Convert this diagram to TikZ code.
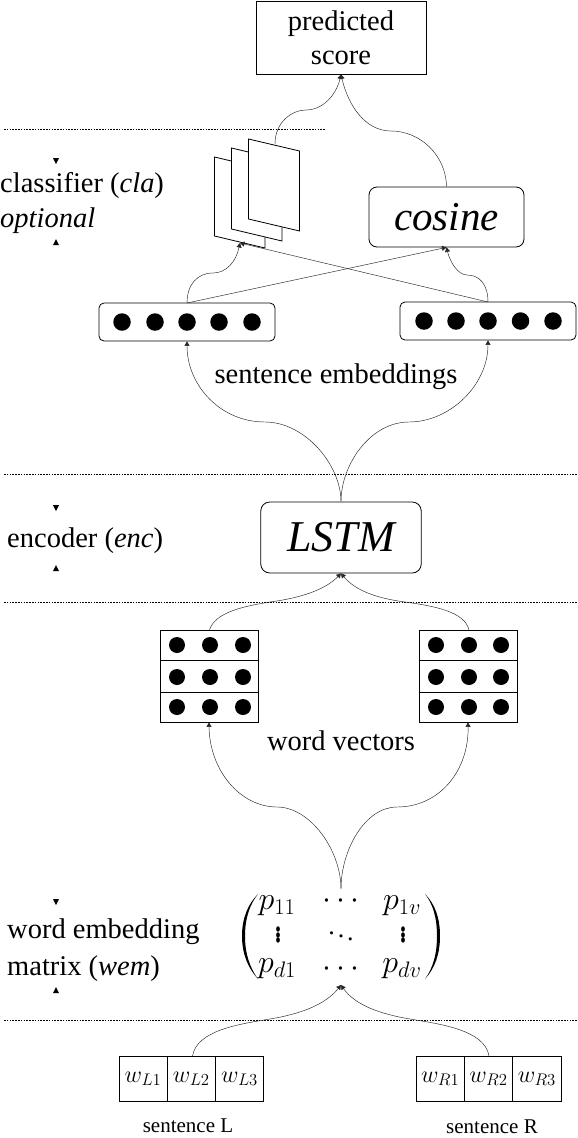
\RequirePackage{fix-cm}
\documentclass[tikz,border=0pt]{standalone}
\usepackage{fontspec}
\setmainfont{Liberation Serif}
\usetikzlibrary{arrows.meta,positioning}
\tikzset{
  conn/.style={draw=black!85,line width=0.45pt,-{Triangle[length=4.5pt,width=5pt]}},
  sep/.style={draw=black,line width=0.5pt,dash pattern=on 1.6pt off 1.2pt},
  lab/.style={inner sep=0pt,anchor=base,font=\fontsize{28.5}{32}\selectfont},
  side/.style={inner sep=0pt,anchor=base west,font=\fontsize{28.5}{32}\selectfont},
  box/.style={draw=black,line width=0.8pt,fill=white},
  dot/.style={circle,fill=black,minimum size=17.5pt,inner sep=0pt},
  gdot/.style={circle,fill=black,minimum size=16pt,inner sep=0pt},
  page/.style={draw=black,line width=0.8pt,fill=white},
  tri/.style={fill=black,draw=none},
  cell/.style={draw=black,line width=0.8pt,minimum height=45pt,inner sep=0pt,anchor=north west,font=\fontsize{24}{28}\selectfont},
  gridrow/.style={draw=black,line width=0.8pt,minimum width=98pt,inner sep=0pt},
  caption/.style={inner sep=0pt,anchor=base,font=\fontsize{21}{25}\selectfont},
  mtx/.style={inner sep=0pt,font=\fontsize{32}{36}\selectfont},
}
\begin{document}
\begin{tikzpicture}[x=1pt,y=-1pt]
\useasboundingbox (0,0) rectangle (578,1138);
\fill[white] (0,0) rectangle (578,1138);
% separators
\coordinate (s1a) at (4,129); \coordinate (s1b) at (325,129);
\coordinate (s2a) at (4,474); \coordinate (s2b) at (578,474);
\coordinate (s3a) at (4,602); \coordinate (s3b) at (578,602);
\coordinate (s4a) at (4,1020); \coordinate (s4b) at (578,1020);
\draw[sep] (s1a)--(s1b); \draw[sep] (s2a)--(s2b); \draw[sep] (s3a)--(s3b); \draw[sep] (s4a)--(s4b);
% score
\node[box,minimum width=170pt,minimum height=73pt,inner sep=0pt,align=center,font=\fontsize{28.5}{34}\selectfont] (score) at (341,37.5) {\raisebox{-1.5pt}{predicted}\\\raisebox{-1.5pt}{score}};
% pages
\draw[page] (214.5,157) -- (265,169) -- (265,248) -- (214.5,236) -- cycle;
\draw[page] (231.5,148) -- (282,160) -- (282,241) -- (231.5,229) -- cycle;
\draw[page] (248.5,139) -- (299.5,151) -- (299.5,231) -- (248.5,219) -- cycle;
\coordinate (pagetop) at (275,144);
\coordinate (pagebot) at (240,243);
% cosine
\node[box,rounded corners=8pt,minimum width=155pt,minimum height=60pt,inner sep=0pt,font=\fontsize{41}{48}\selectfont\itshape] (cos) at (446.5,217) {cosine};
% sentence boxes
\node[box,rounded corners=5pt,minimum width=176pt,minimum height=38pt,inner sep=0pt] (sl) at (187,322) {};
\node[box,rounded corners=5pt,minimum width=176pt,minimum height=38pt,inner sep=0pt] (sr) at (488,321) {};
\foreach \n/\x in {a/122,b/155,c/187,d/219,e/252} \node[dot] (sl\n) at (\x,322) {};
\foreach \n/\x in {a/424,b/456,c/488,d/520.5,e/553} \node[dot] (sr\n) at (\x,321) {};
\node[lab] (selab) at (336,383) {sentence embeddings};
% LSTM
\node[box,rounded corners=9pt,minimum width=160.5pt,minimum height=71pt,inner sep=0pt,font=\fontsize{44}{50}\selectfont\itshape] (lstm) at (341,537.5) {LSTM};
% word vector grids
\node[gridrow,minimum height=30pt] (gla) at (209,645) {};
\node[gridrow,minimum height=32pt] (glb) at (209,676) {};
\node[gridrow,minimum height=30pt] (glc) at (209,707) {};
\node[gridrow,minimum height=30pt] (gra) at (468,645) {};
\node[gridrow,minimum height=32pt] (grb) at (468,676) {};
\node[gridrow,minimum height=30pt] (grc) at (468,707) {};
\foreach \y in {645,677,707} {
  \foreach \x in {177,210,243,436,469,501} \node[gdot] at (\x,\y) {};
}
\node[lab] (wvlab) at (341,750) {word vectors};
% matrix
\fill (258,894) .. controls (248,904) and (242,918) .. (242,936) .. controls (242,954) and (248,968) .. (258,979) .. controls (250,968) and (245,954) .. (245,936) .. controls (245,918) and (250,904) .. (258,894) -- cycle;
\fill (425,894) .. controls (435,904) and (440,918) .. (440,936) .. controls (440,954) and (435,968) .. (425,979) .. controls (433,968) and (437,954) .. (437,936) .. controls (437,918) and (433,904) .. (425,894) -- cycle;
\foreach \t/\x/\y in {p_{11}/277/906,p_{1v}/402/906,p_{d1}/277/969,p_{dv}/402/969}
  \node[mtx] at (\x,\y) {$\t$};
\node[mtx] at (341,901) {$\cdots$};
\node[mtx] at (341,969) {$\cdots$};
\node[mtx] at (278,931) {\scalebox{1}[1.4]{$\vdots$}};
\node[mtx] at (403,931) {\scalebox{1}[1.4]{$\vdots$}};
\node[mtx,font=\fontsize{26}{30}\selectfont] at (341,933) {$\ddots$};
% word cells
\foreach \n/\x/\w/\t in {la/118.7/48/w_{L1},lb/166.7/48.5/w_{L2},lc/215.2/48/w_{L3},ra/415.8/48/w_{R1},rb/463.8/48.5/w_{R2},rc/512.3/48.3/w_{R3}}
  \node[cell,minimum width=\w pt] (\n) at (\x,1056) {$\t$};
\node[caption] (capl) at (188,1132) {sentence L};
\node[caption] (capr) at (492,1133.5) {sentence R};
% side labels
\node[side] (t1) at (0,192.5) {classifier (\textit{cla})};
\node[side] (t2) at (0,227) {\textit{optional}};
\node[side] (t3) at (7,547.5) {encoder (\textit{enc})};
\node[side] (t4) at (7,938.5) {word embedding};
\node[side] (t5) at (7,975) {matrix (\textit{wem})};
% triangles
\foreach \y in {158,505,899} \fill[tri] (53,\y) -- (59,\y) -- (56,\y+6) -- cycle;
\foreach \y in {245,571,993} \fill[tri] (53,\y) -- (59,\y) -- (56,\y-6) -- cycle;
% connectors
\draw[conn] (pagetop) .. controls (275,122) and (292,110) .. (306,110) .. controls (322,110) and (336,96) .. (score.south);
\draw[conn] (cos.north) .. controls (446,155) and (420,131) .. (391,131) .. controls (365,131) and (348,105) .. (score.south);
\coordinate (slt) at (187,303); \coordinate (srt) at (488,302);
\draw[conn] (slt) .. controls (187,285) and (197,273) .. (213,273) .. controls (226,273) and (236,262) .. (pagebot);
\draw[conn] (srt) .. controls (488,285) and (480,275) .. (467,275) .. controls (458,275) and (450,262) .. (cos.south);
\draw[conn] (slt) -- (cos.south);
\draw[conn] (srt) -- (pagebot);
\draw[conn] (lstm.north) .. controls (341,465) and (305,422) .. (265,422) .. controls (220,422) and (187,385) .. (sl.south);
\draw[conn] (lstm.north) .. controls (341,465) and (370,422) .. (409,422) .. controls (450,422) and (488,385) .. (sr.south);
\coordinate (gltop) at (209.5,630); \coordinate (grtop) at (469,630);
\draw[conn] (gltop) .. controls (215,612) and (245,606) .. (270,602) .. controls (300,598) and (325,590) .. (lstm.south);
\draw[conn] (grtop) .. controls (465,612) and (435,606) .. (405,602) .. controls (375,598) and (355,590) .. (lstm.south);
\coordinate (mtop) at (341,889); \coordinate (mbot) at (341,985);
\draw[conn] (mtop) .. controls (341,850) and (310,807) .. (277,807) .. controls (240,807) and (209.5,770) .. (glc.south);
\draw[conn] (mtop) .. controls (341,850) and (365,807) .. (397,807) .. controls (440,807) and (469,770) .. (grc.south);
\coordinate (wl) at (192.5,1056); \coordinate (wr) at (489,1056);
\draw[conn] (wl) .. controls (197,1030) and (240,1024) .. (270,1019) .. controls (300,1014) and (325,1005) .. (mbot);
\draw[conn] (wr) .. controls (485,1030) and (440,1024) .. (410,1019) .. controls (380,1014) and (355,1005) .. (mbot);
\end{tikzpicture}
\end{document}
